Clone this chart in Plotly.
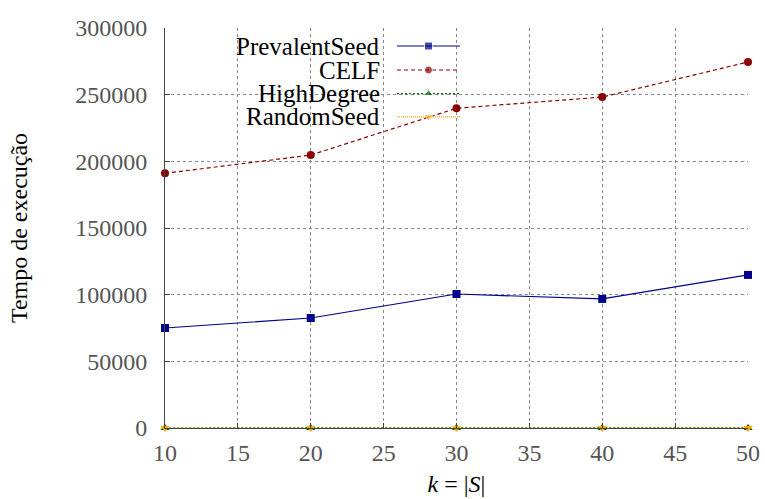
import plotly.graph_objects as go

k_values = [10, 20, 30, 40, 50]
prevalent_seed = [75000, 82500, 100500, 96800, 114800]
celf = [191000, 204700, 239800, 248200, 274500]
high_degree = [15, 25, 40, 55, 70]
random_seed = [5, 10, 15, 20, 25]

series_names = ["PrevalentSeed", "CELF", "HighDegree", "RandomSeed"]
series_values = [prevalent_seed, celf, high_degree, random_seed]
series_colors = ["#00008B", "#8B0000", "#006400", "#FFA500"]
series_dash = ["solid", "4px,3px", "2px,2px", "1px,1px"]
series_symbols = ["square", "circle", "triangle-up", "triangle-down"]

x_ticks = [10, 15, 20, 25, 30, 35, 40, 45, 50]
y_ticks = [0, 50000, 100000, 150000, 200000, 250000, 300000]

FONT = "'Liberation Serif', 'DejaVu Serif', serif"

fig = go.Figure()

for name, vals, col, dash, sym in zip(series_names, series_values, series_colors, series_dash, series_symbols):
    fig.add_trace(go.Scatter(
        x=k_values, y=vals, name=name, mode="lines+markers",
        line=dict(color=col, width=1.2, dash=dash),
        marker=dict(color=col, symbol=sym, size=8),
        cliponaxis=False, showlegend=False,
    ))

# custom gnuplot-style legend (text right, sample on the right)
legend_rows = [0.955, 0.895, 0.836, 0.778]
for name, col, dash, sym, ry in zip(series_names, series_colors, series_dash, series_symbols, legend_rows):
    fig.add_trace(go.Scatter(
        x=[0.398, 0.452, 0.506], y=[ry, ry, ry], xaxis="x2", yaxis="y2",
        mode="lines+markers", line=dict(color=col, width=1.2, dash=dash),
        marker=dict(color=col, symbol=sym, size=[0, 8, 0]),
        showlegend=False, hoverinfo="skip", cliponaxis=False,
    ))
    fig.add_annotation(
        x=0.372, y=ry, xref="x2", yref="y2", text=name, showarrow=False,
        xanchor="right", yanchor="middle", font=dict(family=FONT, size=25, color="#000000"),
    )

fig.update_layout(
    width=765, height=499,
    margin=dict(l=165, r=17, t=28, b=71, autoexpand=False),
    paper_bgcolor="white", plot_bgcolor="white",
    font=dict(family=FONT, size=24, color="#555555"),
    showlegend=False,
    xaxis=dict(
        range=[10, 50], tickvals=x_ticks, ticks="inside", ticklen=5, tickcolor="#444444",
        showline=True, linecolor="#444444", linewidth=1,
        showgrid=True, gridcolor="#888888", griddash="dot", gridwidth=1,
        zeroline=False, ticklabelstandoff=3, automargin=False,
        title=dict(text="<i>k</i> = |<i>S</i>|", font=dict(family=FONT, size=24, color="#000000"), standoff=10),
    ),
    yaxis=dict(
        range=[0, 300000], tickvals=y_ticks, ticktext=[str(v) for v in y_ticks],
        ticks="inside", ticklen=5, tickcolor="#444444",
        showline=True, linecolor="#444444", linewidth=1,
        showgrid=True, gridcolor="#888888", griddash="dot", gridwidth=1,
        zeroline=False, ticklabelstandoff=12, automargin=False,
        title=dict(text="Tempo de execução", font=dict(family=FONT, size=24, color="#000000"), standoff=40),
    ),
    xaxis2=dict(range=[0, 1], overlaying="x", visible=False, anchor="y2"),
    yaxis2=dict(range=[0, 1], overlaying="y", visible=False, anchor="x2"),
)

fig.write_html("out.html")
